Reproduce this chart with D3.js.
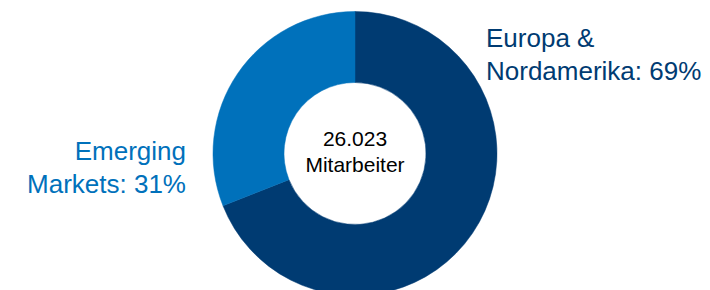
<!DOCTYPE html>
<html>
<head>
<meta charset="utf-8">
<script src="https://cdn.jsdelivr.net/npm/d3@7"></script>
<style>
  body { margin: 0; background: #fff; }
  svg { display: block; font-family: "Liberation Sans", Arial, sans-serif; }
</style>
</head>
<body>
<svg width="710" height="290"></svg>
<script>
//Data of the chart: share of employees per region
let regions = ["Europa & Nordamerika", "Emerging Markets"];
let shares = [69, 31];
//Label lines shown next to the donut
let labelLines = [["Europa &", "Nordamerika: 69%"], ["Emerging", "Markets: 31%"]];
//Text in the hole of the donut
let centerLines = ["26.023", "Mitarbeiter"];

let svg = d3.select("svg"),
    cx = 355, cy = 153.5,
    outerR = 142, innerR = 71;

let color = d3.scaleOrdinal().domain(regions).range(["#003b72", "#0071bb"]);

//Pie starting at 12 o'clock and running clockwise, no sorting
let pie = d3.pie().sort(null).value(d => d);
let arc = d3.arc().innerRadius(innerR).outerRadius(outerR);

let g = svg.append("g")
    .attr("transform", "translate(" + cx + "," + cy + ")");

g.selectAll("path")
  .data(pie(shares))
  .enter().append("path")
  .attr("d", arc)
  .attr("fill", (d, i) => color(regions[i]))
  .attr("stroke", (d, i) => color(regions[i]))
  .attr("stroke-width", 0.5);

//Centre text
g.append("text")
  .attr("text-anchor", "middle")
  .attr("font-size", 21)
  .attr("fill", "#000")
  .selectAll("tspan")
  .data(centerLines)
  .enter().append("tspan")
  .attr("x", 0)
  .attr("y", (d, i) => -8 + i * 26)
  .text(d => d);

//Outside labels: right one left aligned, left one right aligned
let labelPos = [{x: 486, y: 46.7, anchor: "start"}, {x: 186, y: 160, anchor: "end"}];

labelLines.forEach(function(lines, k) {
  svg.append("text")
    .attr("text-anchor", labelPos[k].anchor)
    .attr("font-size", 26)
    .attr("fill", color(regions[k]))
    .selectAll("tspan")
    .data(lines)
    .enter().append("tspan")
    .attr("x", labelPos[k].x)
    .attr("y", (d, i) => labelPos[k].y + i * 33)
    .text(d => d);
});
</script>
</body>
</html>
